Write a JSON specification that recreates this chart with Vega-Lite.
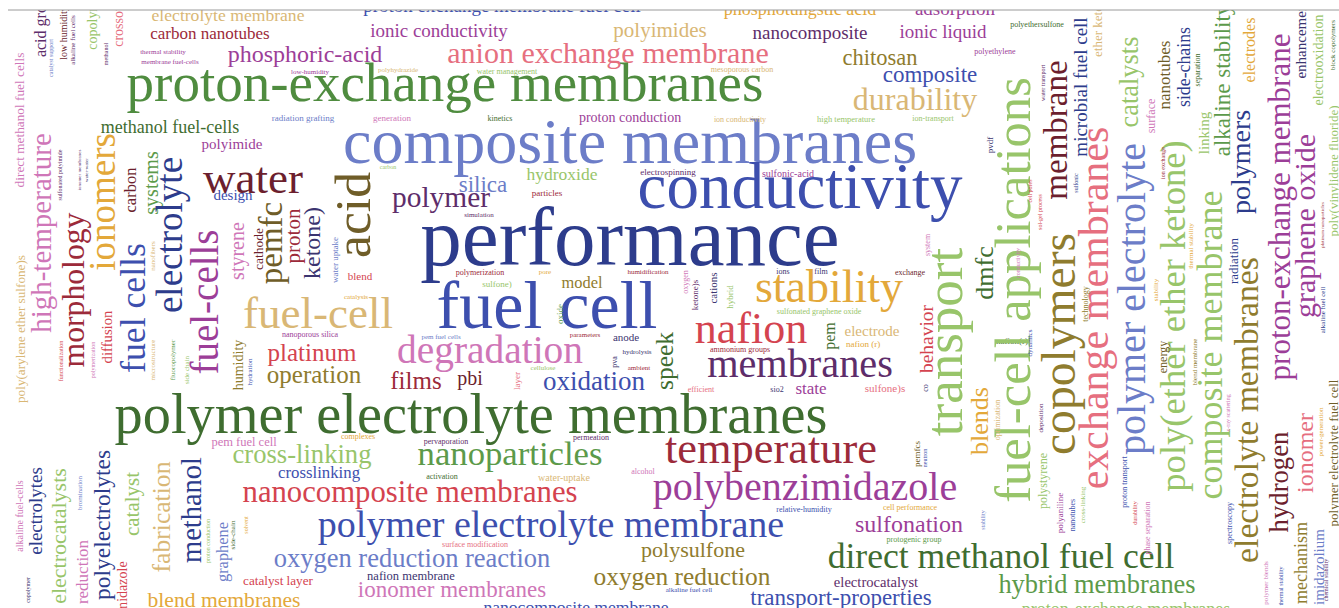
{
"$schema":"https://vega.github.io/schema/vega-lite/v6.json",
"width":1339,"height":598,"autosize":{"type":"none"},
"padding":{"top":10,"left":0,"right":0,"bottom":0},
"background":"white",
"config":{"view":{"stroke":null}},
"datasets":{
"h":[
{"t":"proton exchange membrane fuel cell","x":502,"y":6.3,"f":19,"g":"B"},
{"t":"electrolyte membrane","x":228,"y":15.7,"f":17.6,"g":"H"},
{"t":"carbon nanotubes","x":210,"y":33.9,"f":17,"g":"M"},
{"t":"phosphoric-acid","x":305,"y":54.8,"f":24,"g":"O"},
{"t":"ionic conductivity","x":439,"y":31.3,"f":19,"g":"O"},
{"t":"polyimides","x":660,"y":30.7,"f":21,"g":"H"},
{"t":"anion exchange membrane","x":608,"y":54,"f":30,"g":"L"},
{"t":"phosphotungstic acid","x":800,"y":9.6,"f":18,"g":"I"},
{"t":"adsorption","x":955,"y":9.3,"f":19,"g":"O"},
{"t":"nanocomposite","x":810,"y":33.3,"f":19,"g":"Q"},
{"t":"ionic liquid","x":943,"y":32.3,"f":19,"g":"O"},
{"t":"chitosan","x":880,"y":58.3,"f":22.5,"g":"J"},
{"t":"composite","x":930,"y":75.1,"f":23,"g":"B"},
{"t":"durability","x":915,"y":100.4,"f":32,"g":"H"},
{"t":"proton-exchange membranes","x":445,"y":83.5,"f":55,"g":"D"},
{"t":"proton conduction","x":630,"y":117.8,"f":14,"g":"O"},
{"t":"methanol fuel-cells","x":170,"y":127.6,"f":18,"g":"E"},
{"t":"polyimide","x":232,"y":143.5,"f":15,"g":"O"},
{"t":"composite membranes","x":630,"y":143.8,"f":64,"g":"C"},
{"t":"conductivity","x":800,"y":187.5,"f":65,"g":"B"},
{"t":"water","x":253,"y":178.5,"f":45,"g":"N"},
{"t":"design","x":233,"y":194.5,"f":15,"g":"B"},
{"t":"silica","x":483,"y":185.1,"f":23,"g":"C"},
{"t":"hydroxide","x":562,"y":174.8,"f":17.5,"g":"G"},
{"t":"polymer","x":441,"y":198.2,"f":29.4,"g":"Q"},
{"t":"particles","x":547,"y":193.3,"f":9,"g":"M"},
{"t":"electrospinning","x":668,"y":172.3,"f":9,"g":"Q"},
{"t":"sulfonic-acid","x":788,"y":174,"f":10,"g":"O"},
{"t":"performance","x":630,"y":240.1,"f":83,"g":"A"},
{"t":"fuel-cell","x":318,"y":313.5,"f":45,"g":"H"},
{"t":"fuel cell","x":547,"y":307.6,"f":68,"g":"B"},
{"t":"stability","x":829,"y":288.2,"f":46,"g":"I"},
{"t":"model","x":582,"y":283.1,"f":16.4,"g":"J"},
{"t":"sulfone)","x":497,"y":284.3,"f":9,"g":"G"},
{"t":"polymerization","x":480,"y":272.6,"f":8,"g":"M"},
{"t":"blend","x":360,"y":276.7,"f":11,"g":"K"},
{"t":"degradation","x":490,"y":351.2,"f":39.4,"g":"P"},
{"t":"nafion","x":751,"y":329.8,"f":44,"g":"K"},
{"t":"electrode","x":872,"y":330.5,"f":15,"g":"H"},
{"t":"nafion (r)","x":863,"y":344.3,"f":9,"g":"I"},
{"t":"membranes","x":800,"y":364.9,"f":40.3,"g":"Q"},
{"t":"ammonium groups","x":740,"y":349.6,"f":8,"g":"M"},
{"t":"sulfonated graphene oxide","x":819,"y":311.6,"f":8,"g":"G"},
{"t":"platinum","x":312,"y":352.5,"f":25,"g":"K"},
{"t":"operation","x":314,"y":374.5,"f":25,"g":"J"},
{"t":"films","x":416,"y":380.5,"f":25,"g":"M"},
{"t":"pbi","x":470,"y":379,"f":20,"g":"N"},
{"t":"oxidation","x":594,"y":381.9,"f":27,"g":"B"},
{"t":"anode","x":626,"y":337.7,"f":11,"g":"S"},
{"t":"state","x":811,"y":388.9,"f":17,"g":"O"},
{"t":"sulfone)s","x":885,"y":388.7,"f":11,"g":"L"},
{"t":"sio2","x":777,"y":389.6,"f":8,"g":"S"},
{"t":"efficient","x":701,"y":389.6,"f":8,"g":"L"},
{"t":"polymer electrolyte membranes","x":471,"y":416.1,"f":56.3,"g":"E"},
{"t":"pem fuel cell","x":244,"y":442.3,"f":12.5,"g":"P"},
{"t":"cross-linking","x":302,"y":455,"f":26.6,"g":"G"},
{"t":"crosslinking","x":319,"y":473,"f":16.8,"g":"B"},
{"t":"nanocomposite membranes","x":410,"y":492.8,"f":30.7,"g":"K"},
{"t":"polymer electrolyte membrane","x":551,"y":525.6,"f":38,"g":"B"},
{"t":"oxygen reduction reaction","x":412,"y":559,"f":26.5,"g":"C"},
{"t":"catalyst layer","x":278,"y":581,"f":13.2,"g":"K"},
{"t":"nafion membrane","x":411,"y":576.3,"f":12.5,"g":"S"},
{"t":"ionomer membranes","x":452,"y":590.1,"f":23,"g":"P"},
{"t":"blend membranes","x":224,"y":600.5,"f":21.6,"g":"I"},
{"t":"nanocomposite membrane","x":576,"y":607.7,"f":17.6,"g":"B"},
{"t":"nanoparticles","x":510,"y":454.6,"f":34.7,"g":"F"},
{"t":"pervaporation","x":446,"y":441.6,"f":8,"g":"Q"},
{"t":"permeation","x":591,"y":437.6,"f":8,"g":"Q"},
{"t":"complexes","x":358,"y":436.6,"f":8,"g":"I"},
{"t":"activation","x":442,"y":476.6,"f":8,"g":"E"},
{"t":"water-uptake","x":564,"y":478,"f":10,"g":"H"},
{"t":"alcohol","x":643,"y":471.6,"f":8,"g":"P"},
{"t":"surface modification","x":475,"y":544.6,"f":8,"g":"L"},
{"t":"temperature","x":771,"y":449.7,"f":44.4,"g":"M"},
{"t":"polybenzimidazole","x":805,"y":488,"f":40,"g":"O"},
{"t":"sulfonation","x":909,"y":524.8,"f":24,"g":"O"},
{"t":"polysulfone","x":693,"y":550.4,"f":22,"g":"J"},
{"t":"oxygen reduction","x":682,"y":577.4,"f":25.4,"g":"J"},
{"t":"direct methanol fuel cell","x":1001,"y":557.3,"f":35.6,"g":"E"},
{"t":"electrocatalyst","x":876,"y":582.6,"f":14.6,"g":"Q"},
{"t":"transport-properties","x":841,"y":598.1,"f":23,"g":"B"},
{"t":"hybrid membranes","x":1097,"y":585.1,"f":26.4,"g":"F"},
{"t":"proton-exchange membranes","x":1126,"y":609.6,"f":18,"g":"G"},
{"t":"relative-humidity","x":804,"y":509.6,"f":8,"g":"B"},
{"t":"cell performance","x":910,"y":507.6,"f":8,"g":"I"},
{"t":"protogenic group","x":914,"y":539.6,"f":8,"g":"F"},
{"t":"alkaline fuel cell","x":689,"y":590,"f":7,"g":"B"},
{"t":"thermal stability","x":163,"y":52,"f":7,"g":"O"},
{"t":"membrane fuel-cells","x":170,"y":62,"f":7,"g":"O"},
{"t":"low-humidity","x":310,"y":72,"f":7,"g":"O"},
{"t":"polyhydrazide","x":398,"y":70,"f":7,"g":"H"},
{"t":"water management","x":507,"y":71.6,"f":8,"g":"G"},
{"t":"mesoporous carbon","x":742,"y":69.6,"f":8,"g":"H"},
{"t":"polyethylene","x":995,"y":51.6,"f":8,"g":"O"},
{"t":"radiation grafting","x":303,"y":118.3,"f":9,"g":"C"},
{"t":"generation","x":392,"y":118.3,"f":9,"g":"P"},
{"t":"kinetics","x":500,"y":118.6,"f":8,"g":"E"},
{"t":"ion conductivity","x":740,"y":119.6,"f":8,"g":"H"},
{"t":"high temperature","x":846,"y":118.5,"f":8.5,"g":"G"},
{"t":"ion-transport","x":933,"y":118.6,"f":8,"g":"G"},
{"t":"polyethersulfone","x":1037,"y":24.6,"f":8,"g":"E"},
{"t":"carbon","x":388,"y":167,"f":6,"g":"G"},
{"t":"nanoporous silica","x":310,"y":334.6,"f":8,"g":"O"},
{"t":"catalysis","x":356,"y":297,"f":7,"g":"I"},
{"t":"pore","x":545,"y":272,"f":7,"g":"I"},
{"t":"humidification","x":648,"y":272,"f":7,"g":"M"},
{"t":"simulation","x":479,"y":215,"f":7,"g":"Q"},
{"t":"pem fuel cells","x":441,"y":337,"f":7,"g":"C"},
{"t":"parameters","x":585,"y":335,"f":7,"g":"M"},
{"t":"hydrolysis","x":637,"y":352,"f":7,"g":"S"},
{"t":"ambient","x":639,"y":368,"f":7,"g":"M"},
{"t":"cellulose","x":543,"y":368,"f":7,"g":"G"},
{"t":"ions","x":783,"y":271.6,"f":8,"g":"S"},
{"t":"film","x":821,"y":271.6,"f":8,"g":"S"},
{"t":"exchange","x":910,"y":272.6,"f":8,"g":"N"},
{"t":"nafion(r)","x":1012,"y":341.3,"f":9,"g":"E"}
],
"v":[
{"t":"direct methanol fuel cells","x":20,"y":120,"f":13.3,"g":"P"},
{"t":"acid groups","x":41.2,"y":20,"f":16,"g":"Q"},
{"t":"low humidity","x":64,"y":33,"f":10,"g":"N"},
{"t":"alkaline fuel cells","x":73,"y":40,"f":7,"g":"Q"},
{"t":"copolymers","x":92.8,"y":17,"f":14,"g":"G"},
{"t":"crossover","x":118.8,"y":20,"f":14,"g":"L"},
{"t":"methanol","x":106,"y":54,"f":6,"g":"Q"},
{"t":"catalyst support","x":51,"y":58,"f":6,"g":"C"},
{"t":"high-temperature","x":42.3,"y":233,"f":29,"g":"P"},
{"t":"poly(arylene ether sulfone)s","x":21,"y":329,"f":13.2,"g":"H"},
{"t":"morphology","x":73.5,"y":290,"f":31.7,"g":"M"},
{"t":"ionomers","x":103.9,"y":202,"f":37,"g":"I"},
{"t":"carbon","x":131,"y":190,"f":16.5,"g":"N"},
{"t":"systems","x":152,"y":183,"f":20,"g":"F"},
{"t":"electrolyte","x":170.9,"y":235,"f":37,"g":"A"},
{"t":"fuel cells","x":134.3,"y":308,"f":35.7,"g":"B"},
{"t":"diffusion","x":107.6,"y":337,"f":14.7,"g":"K"},
{"t":"microstructure","x":153,"y":360,"f":7,"g":"H"},
{"t":"nanofibers","x":153,"y":256,"f":7,"g":"H"},
{"t":"fuel-cells","x":206.3,"y":302,"f":39,"g":"O"},
{"t":"styrene","x":238,"y":251,"f":20,"g":"P"},
{"t":"cathode","x":259,"y":249,"f":13.5,"g":"N"},
{"t":"pemfc","x":272.1,"y":243,"f":33,"g":"R"},
{"t":"proton","x":293.7,"y":236,"f":21,"g":"M"},
{"t":"ketone)","x":312.8,"y":243,"f":24,"g":"S"},
{"t":"water uptake","x":335.3,"y":260,"f":9,"g":"C"},
{"t":"acid","x":354.5,"y":215,"f":51.6,"g":"R"},
{"t":"humidity","x":238.8,"y":365,"f":14,"g":"J"},
{"t":"hydration","x":250,"y":372,"f":7,"g":"B"},
{"t":"fluoropolymer","x":173,"y":360,"f":7,"g":"F"},
{"t":"side chain","x":187,"y":370,"f":7,"g":"G"},
{"t":"speek","x":665.4,"y":361,"f":25.5,"g":"E"},
{"t":"pva","x":614.6,"y":362,"f":8,"g":"S"},
{"t":"layer","x":517.3,"y":381,"f":9,"g":"L"},
{"t":"oxide","x":560.3,"y":314,"f":9,"g":"F"},
{"t":"cations","x":713.7,"y":288,"f":11,"g":"S"},
{"t":"ketone)s","x":695.3,"y":295,"f":9,"g":"Q"},
{"t":"oxygen","x":685.6,"y":282,"f":8,"g":"P"},
{"t":"hybrid","x":730.3,"y":297,"f":9,"g":"G"},
{"t":"pem","x":830.2,"y":336,"f":16,"g":"E"},
{"t":"behavior","x":927.2,"y":339,"f":19.5,"g":"K"},
{"t":"transport","x":946.1,"y":342,"f":53,"g":"G"},
{"t":"dmfc","x":985.2,"y":273,"f":26,"g":"E"},
{"t":"co","x":925.6,"y":388,"f":8,"g":"S"},
{"t":"blends","x":980.2,"y":421,"f":26,"g":"I"},
{"t":"pemfcs","x":917.3,"y":454,"f":9,"g":"R"},
{"t":"neutron","x":925,"y":458,"f":6,"g":"B"},
{"t":"stability","x":983,"y":520,"f":6,"g":"C"},
{"t":"system","x":927.6,"y":245,"f":8,"g":"P"},
{"t":"fuel-cell applications","x":1014.8,"y":290,"f":50.6,"g":"G"},
{"t":"membrane","x":1057.1,"y":130,"f":33,"g":"N"},
{"t":"microbial fuel cell","x":1081.3,"y":87,"f":19,"g":"A"},
{"t":"ether ketone","x":1098,"y":25,"f":13,"g":"H"},
{"t":"copolymers","x":1060.7,"y":344,"f":47.6,"g":"J"},
{"t":"exchange membranes","x":1095.4,"y":308,"f":42,"g":"L"},
{"t":"polymer electrolyte","x":1133,"y":299,"f":40,"g":"C"},
{"t":"poly(ether ether ketone)","x":1174,"y":316,"f":36.6,"g":"G"},
{"t":"catalysts","x":1130.1,"y":82,"f":26.4,"g":"G"},
{"t":"surface","x":1151.4,"y":116,"f":12,"g":"P"},
{"t":"nanotubes","x":1164.9,"y":75,"f":17,"g":"R"},
{"t":"side-chains","x":1184.7,"y":67,"f":17.8,"g":"A"},
{"t":"separation","x":1197.6,"y":70,"f":8,"g":"E"},
{"t":"linking","x":1203.5,"y":133,"f":15,"g":"G"},
{"t":"alkaline stability","x":1223.1,"y":80,"f":23,"g":"F"},
{"t":"polymers","x":1241.6,"y":162,"f":28,"g":"A"},
{"t":"electrodes","x":1250.2,"y":50,"f":16,"g":"I"},
{"t":"proton-exchange membrane","x":1280.7,"y":207,"f":31,"g":"O"},
{"t":"enhancement","x":1300.5,"y":39,"f":15,"g":"S"},
{"t":"graphene oxide","x":1306,"y":226,"f":30,"g":"O"},
{"t":"electrooxidation","x":1318.8,"y":60,"f":14,"g":"G"},
{"t":"block copolymers","x":1333,"y":45,"f":7,"g":"E"},
{"t":"poly(vinylidene fluoride)","x":1334.1,"y":171,"f":13,"g":"G"},
{"t":"platinum nanoparticles","x":1321.5,"y":225,"f":5,"g":"M"},
{"t":"alkaline fuel cell","x":1323,"y":310,"f":7,"g":"A"},
{"t":"polymer electrolyte fuel cell","x":1334.1,"y":453,"f":13,"g":"R"},
{"t":"electrolyte membranes","x":1247.9,"y":410,"f":33.7,"g":"J"},
{"t":"composite membrane","x":1211.2,"y":345,"f":36,"g":"G"},
{"t":"hydrogen","x":1280,"y":482,"f":26.7,"g":"N"},
{"t":"ionomer","x":1305.8,"y":453,"f":24,"g":"L"},
{"t":"mechanism","x":1301.6,"y":563,"f":18,"g":"J"},
{"t":"imidazolium","x":1318.5,"y":567,"f":15,"g":"C"},
{"t":"power-generation","x":1321,"y":432,"f":7,"g":"I"},
{"t":"spectroscopy","x":1229.6,"y":523,"f":8,"g":"B"},
{"t":"x-ray scattering","x":1228,"y":413,"f":6,"g":"P"},
{"t":"proton transport","x":1124.6,"y":482,"f":8,"g":"B"},
{"t":"durability","x":1135,"y":513,"f":6,"g":"K"},
{"t":"phase separation","x":1147.6,"y":528,"f":8,"g":"P"},
{"t":"polystyrene","x":1043.4,"y":481,"f":12,"g":"G"},
{"t":"polyaniline","x":1060.3,"y":513,"f":9,"g":"O"},
{"t":"nanotubes","x":1072.6,"y":515,"f":8,"g":"B"},
{"t":"cross-linking","x":1083,"y":505,"f":7,"g":"G"},
{"t":"deposition","x":1041,"y":418,"f":7,"g":"Q"},
{"t":"optimization","x":997.6,"y":420,"f":8,"g":"H"},
{"t":"polymer blends","x":1266,"y":583,"f":7,"g":"P"},
{"t":"thermal stability","x":1281,"y":586,"f":6,"g":"B"},
{"t":"chemical stability","x":1326,"y":580,"f":6,"g":"Q"},
{"t":"radiation","x":1234,"y":261,"f":13,"g":"A"},
{"t":"energy","x":1163.4,"y":357,"f":12,"g":"R"},
{"t":"blend membrane","x":1195,"y":362,"f":7,"g":"J"},
{"t":"technology","x":1085.6,"y":304,"f":8,"g":"J"},
{"t":"dynamics","x":1030,"y":343,"f":7,"g":"B"},
{"t":"stability","x":1156,"y":290,"f":7,"g":"I"},
{"t":"conductivity","x":1018,"y":263,"f":6,"g":"P"},
{"t":"sol-gel process","x":1040,"y":212,"f":6,"g":"K"},
{"t":"thermal stability","x":1191,"y":246,"f":7,"g":"I"},
{"t":"pvdf","x":990.3,"y":145,"f":9,"g":"S"},
{"t":"water transport","x":1043,"y":83,"f":6,"g":"Q"},
{"t":"sulfonic","x":1076,"y":183,"f":6,"g":"A"},
{"t":"cell pores","x":1030,"y":191,"f":6,"g":"K"},
{"t":"ion exchange","x":1163,"y":163,"f":6,"g":"M"},
{"t":"alkaline fuel-cells","x":20,"y":516,"f":10,"g":"P"},
{"t":"electrolytes","x":36.3,"y":511,"f":19,"g":"A"},
{"t":"electrocatalysts","x":59.4,"y":536,"f":22,"g":"G"},
{"t":"bromination","x":80,"y":493,"f":7,"g":"C"},
{"t":"reduction","x":82.9,"y":572,"f":17,"g":"P"},
{"t":"polyelectrolytes","x":103,"y":525,"f":23.5,"g":"A"},
{"t":"imidazole","x":122.8,"y":589,"f":14,"g":"K"},
{"t":"catalyst","x":132.7,"y":504,"f":21,"g":"G"},
{"t":"fabrication","x":162.3,"y":517,"f":25.6,"g":"H"},
{"t":"methanol","x":191.5,"y":510,"f":28.5,"g":"A"},
{"t":"graphene","x":223.1,"y":552,"f":16.4,"g":"C"},
{"t":"side-chain","x":233,"y":535,"f":7,"g":"E"},
{"t":"proton conduction","x":208,"y":541,"f":6,"g":"G"},
{"t":"solvent","x":246,"y":525,"f":6,"g":"I"},
{"t":"copolymer","x":28,"y":590,"f":6,"g":"S"},
{"t":"functionalization","x":61,"y":361,"f":6,"g":"K"},
{"t":"polymerization","x":93,"y":360,"f":6,"g":"P"},
{"t":"sulfonated polyimide","x":60,"y":175,"f":6,"g":"Q"},
{"t":"ionomer membranes","x":78.5,"y":170,"f":5,"g":"Q"},
{"t":"water-water","x":85.5,"y":170,"f":5,"g":"S"}
],
"line":[{"x0":8,"x1":1339,"y":10}]
},
"encoding":{
"x":{"field":"x","type":"quantitative","scale":{"domain":[0,1339],"nice":false,"zero":false},"axis":null},
"y":{"field":"y","type":"quantitative","scale":{"domain":[10,608],"nice":false,"zero":false,"reverse":true},"axis":null}
},
"layer":[
{"data":{"name":"h"},
 "mark":{"type":"text","font":"Liberation Serif","align":"center","baseline":"middle","clip":true},
 "encoding":{"text":{"field":"t"},
  "size":{"field":"f","type":"quantitative","scale":{"type":"linear","domain":[0,100],"range":[0,100]},"legend":null},
  "color":{"field":"g","type":"nominal","legend":null,"scale":{"domain":["A","B","C","D","E","F","G","H","I","J","K","L","M","N","O","P","Q","R","S"],"range":["#2d3c8c","#3d4fae","#6c7dc8","#4f8c3f","#3f6d30","#5c9a4a","#98c56a","#d9b775","#e3a83a","#8f7c2e","#d4434f","#e66f7f","#9c2a3a","#6c1f2e","#9c3e98","#cf76b8","#5e2d6a","#6f5d28","#3b3470"]}}}},
{"data":{"name":"v"},
 "mark":{"type":"text","font":"Liberation Serif","align":"center","baseline":"middle","angle":270,"clip":true},
 "encoding":{"text":{"field":"t"},
  "size":{"field":"f","type":"quantitative","scale":{"type":"linear","domain":[0,100],"range":[0,100]},"legend":null},
  "color":{"field":"g","type":"nominal","legend":null}}},
{"data":{"name":"line"},
 "mark":{"type":"rule","color":"#9a9a9a","strokeWidth":1},
 "encoding":{"x":{"field":"x0","type":"quantitative"},"x2":{"field":"x1"},"y":{"field":"y","type":"quantitative"}}}
]
}
